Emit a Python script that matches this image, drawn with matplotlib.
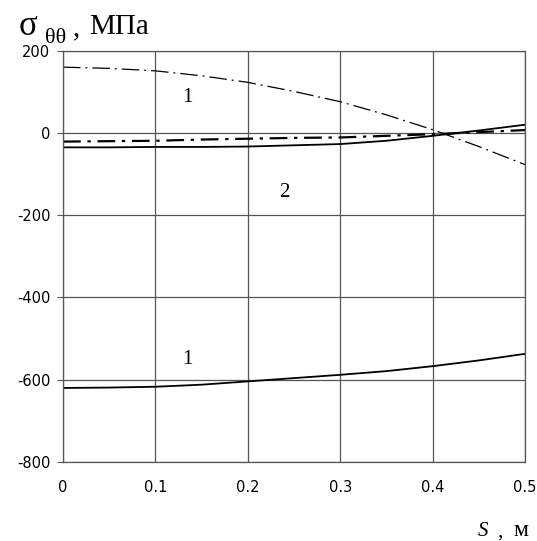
from matplotlib import pyplot as plt

plt.rcParams['axes.unicode_minus'] = False

# S, m
s = [0, 0.05, 0.1, 0.15, 0.2, 0.25, 0.3, 0.35, 0.4, 0.45, 0.5]

# sigma_theta_theta, MPa
outer_1 = [160, 157, 151, 139, 123, 101, 76, 44, 8, -33, -77]
inner_1 = [-620, -619, -617, -612, -604, -596, -588, -579, -567, -553, -537]
outer_2 = [-21, -20, -19, -16, -14, -12, -11, -7, -3, 2, 7]
inner_2 = [-35, -35, -34, -34, -33, -30, -27, -19, -7, 6, 20]

xticks = [0, 0.1, 0.2, 0.3, 0.4, 0.5]
yticks = [-800, -600, -400, -200, 0, 200]

fig = plt.figure(figsize=(5.37, 5.41), dpi=100)
ax = fig.add_axes([0.1173, 0.146, 0.8604, 0.7603])

grid_c = '#555555'
ax.plot(s, outer_1, color='black', lw=0.9, dashes=(14, 4, 1.5, 4))
ax.plot(s, outer_2, color='black', lw=1.6, dashes=(8, 3, 1.5, 3))
ax.plot(s, inner_2, color='black', lw=1.3)
ax.plot(s, inner_1, color='black', lw=1.3)

ax.set_xlim(0, 0.5)
ax.set_ylim(-800, 200)
ax.set_xticks(xticks)
ax.set_xticklabels(['0', '0.1', '0.2', '0.3', '0.4', '0.5'])
ax.set_yticks(yticks)
ax.grid(True, color=grid_c, lw=0.9)
for sp in ax.spines.values():
    sp.set_color(grid_c)
    sp.set_linewidth(0.9)
ax.tick_params(axis='y', length=4, color=grid_c, labelsize=10.5, pad=5)
ax.tick_params(axis='x', length=0, labelsize=10.5, pad=13)
for lab in ax.get_xticklabels() + ax.get_yticklabels():
    lab.set_family('DejaVu Sans')

serif = 'Liberation Serif'
ax.text(0.135, 85, '1', family=serif, fontsize=15, ha='center', va='center')
ax.text(0.24, -145, '2', family=serif, fontsize=15, ha='center', va='center')
ax.text(0.135, -550, '1', family=serif, fontsize=15, ha='center', va='center')

# axis titles
fig.text(0.035, 0.935, 'σ', family=serif, fontsize=25)
fig.text(0.084, 0.921, 'θθ', family=serif, fontsize=16)
fig.text(0.136, 0.935, ',', family=serif, fontsize=21)
fig.text(0.166, 0.937, 'МПа', family=serif, fontsize=21)
fig.text(0.889, 0.009, 'S', family=serif, fontsize=15, style='italic')
fig.text(0.925, 0.009, ',', family=serif, fontsize=15)
fig.text(0.957, 0.009, 'м', family=serif, fontsize=17)

plt.savefig('out.png', dpi=100)
